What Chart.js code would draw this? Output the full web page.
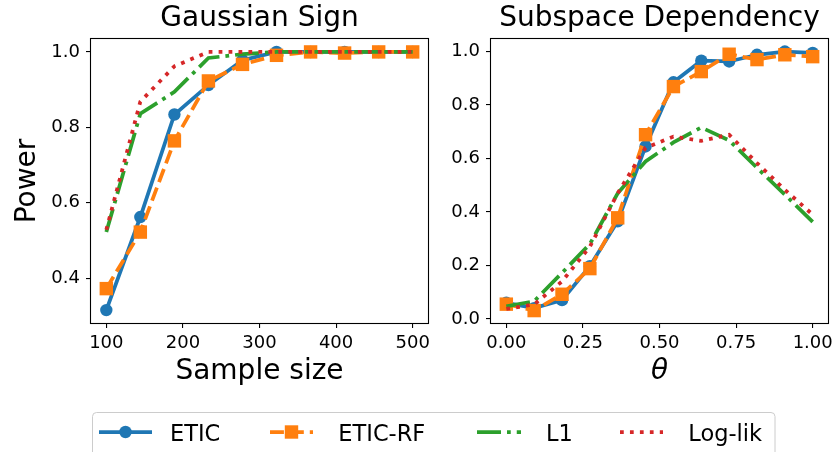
<!DOCTYPE html>
<html>
<head>
<meta charset="utf-8">
<script src="https://cdn.jsdelivr.net/npm/chart.js@4.4.1/dist/chart.umd.min.js"></script>
<style>
body { margin: 0; background: #fff; }
#wrap { position: relative; width: 838px; height: 452px; overflow: hidden; background: #fff; font-family: "DejaVu Sans"; }
canvas { position: absolute; top: 0; }
#legend { position: absolute; left: 0; top: 0; }
</style>
</head>
<body>
<div id="wrap">
  <canvas id="left" width="519" height="400" style="left:0;width:519px;height:400px"></canvas>
  <canvas id="right" width="439" height="400" style="left:440px;width:439px;height:400px"></canvas>
  <svg id="legend" width="838" height="452" xmlns="http://www.w3.org/2000/svg"></svg>
</div>
<script>
// ---- data ----
const sampleSizes = [100, 144.4, 188.9, 233.3, 277.8, 322.2, 366.7, 411.1, 455.6, 500];
const gaussEtic   = [0.315, 0.562, 0.834, 0.912, 0.978, 1.0, 1.0, 1.0, 1.0, 1.0];
const gaussEticRf = [0.372, 0.522, 0.764, 0.923, 0.967, 0.991, 1.0, 0.997, 1.0, 1.0];
const gaussL1     = [0.522, 0.836, 0.894, 0.984, 0.994, 1.0, 1.0, 1.0, 1.0, 1.0];
const gaussLogLik = [0.528, 0.868, 0.962, 1.0, 1.0, 1.0, 1.0, 1.0, 1.0, 1.0];

const thetas = [0, 0.0909, 0.1818, 0.2727, 0.3636, 0.4545, 0.5455, 0.6364, 0.7273, 0.8182, 0.9091, 1.0];
const subEtic   = [0.06, 0.04, 0.07, 0.197, 0.365, 0.645, 0.885, 0.966, 0.963, 0.988, 1.0, 0.995];
const subEticRf = [0.055, 0.031, 0.092, 0.188, 0.378, 0.689, 0.869, 0.925, 0.99, 0.97, 0.988, 0.981];
const subL1     = [0.047, 0.066, 0.172, 0.28, 0.47, 0.589, 0.66, 0.716, 0.668, 0.565, 0.465, 0.363];
const subLogLik = [0.037, 0.054, 0.14, 0.27, 0.47, 0.64, 0.682, 0.666, 0.689, 0.583, 0.483, 0.39];

const seriesNames = ['ETIC', 'ETIC-RF', 'L1', 'Log-lik'];
const leftXTicks = [100, 200, 300, 400, 500];
const leftYTicks = [0.4, 0.6, 0.8, 1.0];
const rightXTicks = [0, 0.25, 0.5, 0.75, 1.0];
const rightYTicks = [0, 0.2, 0.4, 0.6, 0.8, 1.0];

const FONT = 'DejaVu Sans';
const LW = 3.75;
const styles = [
  { color: '#1f77b4', dash: [], point: 'circle', r: 6.2 },
  { color: '#ff7f0e', dash: [13.9, 6], point: 'rect', r: 9.5 },
  { color: '#2ca02c', dash: [24, 6, 3.75, 6], point: false, r: 0 },
  { color: '#d62728', dash: [3.75, 6.2], point: false, r: 0 }
];

// matplotlib-like box around the plot area
const frame = {
  id: 'frame',
  afterDraw(chart) {
    const a = chart.chartArea, ctx = chart.ctx;
    ctx.save();
    ctx.strokeStyle = '#000';
    ctx.lineWidth = 1.1;
    ctx.strokeRect(a.left - 0.5, a.top - 0.5, a.right - a.left + 1, a.bottom - a.top + 1);
    ctx.restore();
  }
};

function makeDatasets(xs, ys) {
  return ys.map((vals, i) => {
    const s = styles[i];
    return {
      label: seriesNames[i],
      data: xs.map((x, j) => ({ x: x, y: vals[j] })),
      borderColor: s.color,
      backgroundColor: s.color,
      borderWidth: LW,
      borderDash: s.dash,
      borderCapStyle: 'butt',
      pointStyle: s.point || 'circle',
      pointRadius: s.r,
      pointBorderWidth: 0,
      pointBackgroundColor: s.color,
      tension: 0,
      fill: false,
      clip: false,
      order: 3 - i
    };
  });
}

function axisX(min, max, ticks, fmt, title, italic) {
  return {
    type: 'linear', min: min, max: max,
    afterBuildTicks: s => { s.ticks = ticks.map(v => ({ value: v })); },
    afterFit: s => { s.height = 77; },
    grid: { display: true, drawOnChartArea: false, drawTicks: true, tickLength: 5, color: '#000', lineWidth: 1.1 },
    border: { display: false },
    ticks: { color: '#000', font: { family: FONT, size: 18 }, padding: 5, maxRotation: 0, autoSkip: false, callback: v => fmt(v) },
    title: { display: true, text: title, color: '#000', font: { family: FONT, size: 28, style: italic ? 'italic' : 'normal' }, padding: { top: 0, bottom: 11 } }
  };
}

function axisY(min, max, ticks, width, title) {
  return {
    type: 'linear', min: min, max: max,
    afterBuildTicks: s => { s.ticks = ticks.map(v => ({ value: v })); },
    afterFit: s => { s.width = width; },
    grid: { display: true, drawOnChartArea: false, drawTicks: true, tickLength: 5, color: '#000', lineWidth: 1.1 },
    border: { display: false },
    ticks: { color: '#000', font: { family: FONT, size: 18 }, padding: 6, autoSkip: false, callback: v => v.toFixed(1) },
    title: { display: !!title, text: title || '', color: '#000', font: { family: FONT, size: 28 }, padding: { top: 10.5, bottom: 0 } }
  };
}

// empty right-hand axis, only there so the title centres over the plot
function spacerY(width) {
  return {
    position: 'right',
    min: 0, max: 1,
    afterFit: s => { s.width = width; },
    grid: { display: false },
    border: { display: false },
    ticks: { display: false }
  };
}

function makeChart(id, titleText, xs, ys, xAxis, yAxis, spacer) {
  return new Chart(document.getElementById(id), {
    type: 'line',
    data: { datasets: makeDatasets(xs, ys) },
    options: {
      responsive: false,
      animation: false,
      devicePixelRatio: 1,
      layout: { padding: 0 },
      plugins: {
        legend: { display: false },
        tooltip: { enabled: false },
        title: { display: true, text: titleText, color: '#000', font: { family: FONT, size: 28, weight: 'normal' }, padding: { top: 1.5, bottom: 3.9 } }
      },
      scales: { x: xAxis, y: yAxis, yr: spacerY(spacer) }
    },
    plugins: [frame]
  });
}

makeChart('left', 'Gaussian Sign', sampleSizes,
  [gaussEtic, gaussEticRf, gaussL1, gaussLogLik],
  axisX(80, 520, leftXTicks, v => String(Math.round(v)), 'Sample size', false),
  axisY(0.2808, 1.0343, leftYTicks, 91, 'Power'),
  91);

makeChart('right', 'Subspace Dependency', thetas,
  [subEtic, subEticRf, subL1, subLogLik],
  axisX(-0.05, 1.05, rightXTicks, v => v.toFixed(2), 'θ', true),
  axisY(-0.0155, 1.047, rightYTicks, 51, ''),
  51);

// ---- legend (drawn as SVG with real text) ----
const NS = 'http://www.w3.org/2000/svg';
const svg = document.getElementById('legend');
function el(tag, attrs, text) {
  const e = document.createElementNS(NS, tag);
  for (const k in attrs) e.setAttribute(k, attrs[k]);
  if (text) e.textContent = text;
  svg.appendChild(e);
  return e;
}
el('rect', { x: 92.5, y: 412.5, width: 682.5, height: 60, rx: 4, fill: '#fff', stroke: '#cccccc', 'stroke-width': 1 });
const handles = [[99, 152], [270, 313], [477, 521], [620, 663]];
const textX = [170, 338.3, 546, 688.3];
const LY = 432;
handles.forEach((h, i) => {
  const s = styles[i];
  el('line', { x1: h[0], y1: LY, x2: h[1], y2: LY, stroke: s.color, 'stroke-width': LW,
    'stroke-dasharray': s.dash.length ? s.dash.join(' ') : 'none' });
  const mid = (h[0] + h[1]) / 2;
  if (s.point === 'circle') el('circle', { cx: mid, cy: LY, r: s.r, fill: s.color });
  if (s.point === 'rect') el('rect', { x: mid - 6.7, y: LY - 6.7, width: 13.4, height: 13.4, fill: s.color });
  el('text', { x: textX[i], y: 440.7, 'font-family': FONT, 'font-size': 22.5, fill: '#000' }, seriesNames[i]);
});
</script>
</body>
</html>
